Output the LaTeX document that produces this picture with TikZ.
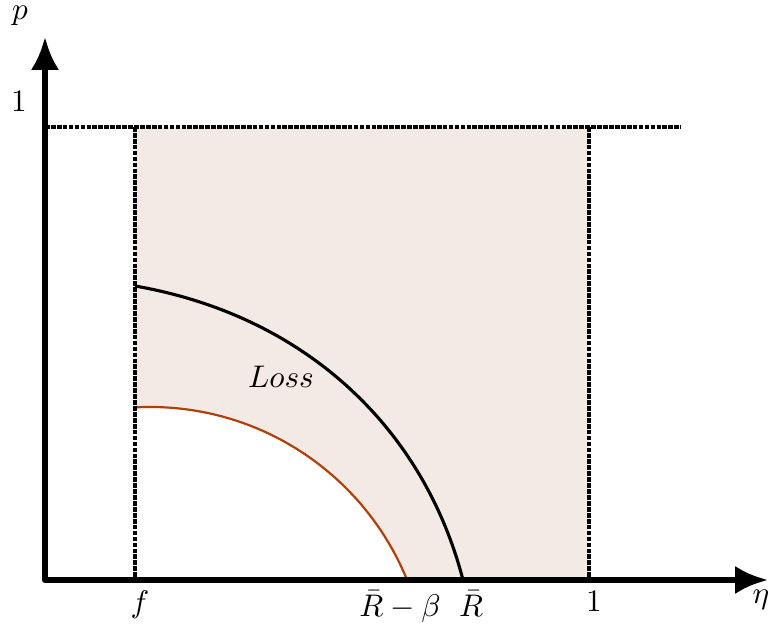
\documentclass[tikz,border=0pt]{standalone}
\usetikzlibrary{arrows.meta}
\definecolor{regionfill}{RGB}{243,234,229}
\definecolor{lowarc}{RGB}{178,62,8}
\tikzset{
  axisline/.style={line width=1.9pt, line join=round, {Latex[length=10.5pt,width=9pt]}-{Latex[length=10.5pt,width=9pt]}},
  dotline/.style={line width=1.05pt, dash pattern=on 1.5pt off 0.4pt},
  losscurve/.style={line width=1pt, black},
  betacurve/.style={line width=0.7pt, lowarc},
  lbl/.style={inner sep=0pt, outer sep=0pt}
}
\begin{document}
\begin{tikzpicture}[x=0.32pt, y=-0.32pt]
\useasboundingbox (0,0) rectangle (769,628);
% named points
\coordinate (O) at (45,580);
\coordinate (ytip) at (45,37);
\coordinate (xtip) at (768,580);
\coordinate (hl) at (45,127);
\coordinate (hr) at (681,127);
\coordinate (ft) at (135,127);
\coordinate (fb) at (135,580);
\coordinate (ot) at (589,127);
\coordinate (ob) at (589,580);
\coordinate (ls) at (135,286);
\coordinate (le) at (463,580);
% shaded region
\fill[regionfill] (ft) rectangle (ob);
\begin{scope}
  \clip (fb) rectangle (ot);
  \fill[white] (150,684.4) circle[radius=277.4];
  \draw[betacurve] (150,684.4) circle[radius=277.4];
\end{scope}
% dotted lines
\draw[dotline] (hl) -- (hr);
\draw[dotline] (ft) -- (fb);
\draw[dotline] (ot) -- (ob);
% loss curve
\draw[losscurve] (ls) .. controls (307.4,316.1) and (424.2,430.0) .. (le);
% axes
\draw[axisline] (ytip) -- (O) -- (xtip);
% labels
\node[lbl, anchor=base] (pl) at (20,20) {$p$};
\node[lbl, anchor=base] (one) at (19,112) {$1$};
\node[lbl, anchor=base] (eta) at (761,603.5) {$\eta$};
\node[lbl, anchor=north] (fl) at (140,591) {$f$};
\node[lbl, anchor=north] (rbl) at (400,591) {$\bar{R}-\beta$};
\node[lbl, anchor=north] (rl) at (471,591) {$\bar{R}$};
\node[lbl, anchor=north] (onel) at (594,591) {$1$};
\node[lbl, anchor=base] (loss) at (281,388) {$Loss$};
\end{tikzpicture}
\end{document}
